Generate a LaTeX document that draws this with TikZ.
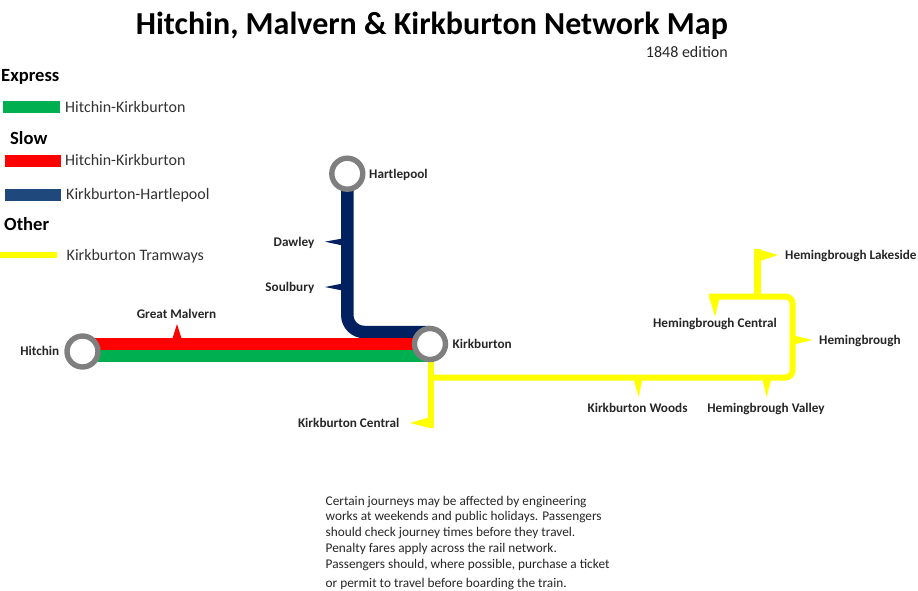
\documentclass[tikz,border=0pt]{standalone}
\usepackage{fontspec}
\setmainfont{Carlito}
\usetikzlibrary{arrows.meta}
\definecolor{expressgreen}{HTML}{00B050}
\definecolor{slowred}{HTML}{FF0000}
\definecolor{legendblue}{HTML}{1F497D}
\definecolor{slownavy}{HTML}{002060}
\definecolor{tramyellow}{HTML}{FFFF00}
\definecolor{ringgrey}{HTML}{7F7F7F}
\def\railw{12pt}
\def\tramw{6pt}
\tikzset{
    station/.style={circle, draw=ringgrey, fill=white, line width=5.4pt, minimum size=31pt, inner sep=0pt},
    stoplabel/.style={font=\fontsize{13.2}{15}\selectfont\bfseries, text=black!85, inner sep=0pt},
    legendhead/.style={font=\fontsize{18.6}{21}\selectfont\bfseries, anchor=base west, inner sep=0pt},
    legendtext/.style={font=\fontsize{16}{19}\selectfont, text=black!80, anchor=base west, inner sep=0pt},
    noteline/.style={font=\fontsize{13.3}{15}\selectfont, text=black!85, anchor=base west, inner sep=0pt},
}

\begin{document}
\begin{tikzpicture}[x=1pt,y=-1pt]
\useasboundingbox (0,0) rectangle (918,591);

% Title
\node[font=\fontsize{32}{37}\selectfont\bfseries, anchor=base east, inner sep=0pt] (title) at (728,35) {Hitchin, Malvern \& Kirkburton Network Map};
\node[font=\fontsize{16}{19}\selectfont, text=black!85, anchor=base east, inner sep=0pt] (edition) at (728,58) {1848 edition};

% Legend
\node[legendhead] (express) at (1,81.5) {Express};
\fill[expressgreen] (2.5,101.5) rectangle (59.5,113.5);
\node[legendtext] (expressline) at (65,113) {Hitchin-Kirkburton};
\node[legendhead] (slow) at (10,144) {Slow};
\fill[slowred] (4.5,154.5) rectangle (60.5,166.5);
\node[legendtext] (slowline) at (65,165.8) {Hitchin-Kirkburton};
\fill[legendblue] (4.5,188.5) rectangle (60.5,200.5);
\node[legendtext] (hartline) at (66,199.5) {Kirkburton-Hartlepool};
\node[legendhead] (other) at (4,230.5) {Other};
\draw[tramyellow, line width=\tramw] (0,255.3) -- (57,255.3);
\node[legendtext] (tramline) at (66.5,260.5) {Kirkburton Tramways};

% Stations
\coordinate (hitchinpos) at (82.5,351.5);
\coordinate (kirkpos) at (430,344);
\coordinate (hartpos) at (347.3,173.7);

% Tramways
\fill[tramyellow] (757,249) -- (778,255) -- (757,262) -- cycle; % Hemingbrough Lakeside stop
\fill[tramyellow] (709,296) -- (720,296) -- (715,317) -- cycle; % Hemingbrough Central stop
\fill[tramyellow] (792,335) -- (812,340) -- (792,345) -- cycle; % Hemingbrough stop
\fill[tramyellow] (633,377) -- (643,377) -- (638.5,397) -- cycle; % Kirkburton Woods stop
\fill[tramyellow] (762,377) -- (772,377) -- (766.5,397) -- cycle; % Hemingbrough Valley stop
\fill[tramyellow] (430,417) -- (430,428) -- (410,423) -- cycle; % Kirkburton Central stop
\draw[tramyellow, line width=\tramw] (430.7,350) -- (430.7,428);
\draw[tramyellow, line width=\tramw, rounded corners=7pt] (430.7,377.5) -- (792.5,377.5) -- (792.5,296.5) -- (709,296.5);
\draw[tramyellow, line width=\tramw+1pt] (757,296) -- (757,249);

% Slow and express lines
\fill[slownavy] (325,241.7) -- (345,238) -- (345,246) -- cycle; % Dawley stop
\fill[slownavy] (325,287) -- (345,283) -- (345,291) -- cycle; % Soulbury stop
\fill[slowred] (177,324) -- (172,340) -- (182,340) -- cycle; % Great Malvern stop
\draw[slownavy, line width=\railw+0.5pt, rounded corners=17pt] (hartpos) -- (347.3,332) -- (kirkpos |- 0,332);
\draw[slowred, line width=\railw] (hitchinpos |- 0,343.5) -- (kirkpos |- 0,343.5);
\draw[expressgreen, line width=\railw] (hitchinpos |- 0,355.5) -- (kirkpos |- 0,355.5);

\node[station] (hitchin) at (hitchinpos) {};
\node[station] (kirkburton) at (kirkpos) {};
\node[station] (hartlepool) at (hartpos) {};

% Labels
\node[stoplabel, anchor=base east] (hitchinlabel) at (59.5,355.5) {Hitchin};
\node[stoplabel, anchor=base] (malvernlabel) at (176.5,318) {Great Malvern};
\node[stoplabel, anchor=base west] (hartlabel) at (369,178) {Hartlepool};
\node[stoplabel, anchor=base east] (dawleylabel) at (314.5,246.5) {Dawley};
\node[stoplabel, anchor=base east] (soulburylabel) at (314.5,291) {Soulbury};
\node[stoplabel, anchor=base west] (kirklabel) at (452.5,348.3) {Kirkburton};
\node[stoplabel, anchor=base east] (centrallabel) at (399.5,427) {Kirkburton Central};
\node[stoplabel, anchor=base] (woodslabel) at (637.5,412.5) {Kirkburton Woods};
\node[stoplabel, anchor=base] (valleylabel) at (766,412.5) {Hemingbrough Valley};
\node[stoplabel, anchor=base] (hemcentrallabel) at (715,327.5) {Hemingbrough Central};
\node[stoplabel, anchor=base west] (hemlabel) at (819,344.5) {Hemingbrough};
\node[stoplabel, anchor=base west] (lakelabel) at (785,259) {Hemingbrough Lakeside};

% Notes
\node[noteline] (note1) at (325.5,505) {Certain journeys may be affected by engineering};
\node[noteline] (note2) at (325.5,520.7) {works at weekends and public holidays. Passengers};
\node[noteline] (note3) at (325.5,536) {should check journey times before they travel.};
\node[noteline] (note4) at (325.5,552) {Penalty fares apply across the rail network.};
\node[noteline] (note5) at (325.5,568) {Passengers should, where possible, purchase a ticket};
\node[noteline] (note6) at (325.5,587) {or permit to travel before boarding the train.};

\end{tikzpicture}
\end{document}
